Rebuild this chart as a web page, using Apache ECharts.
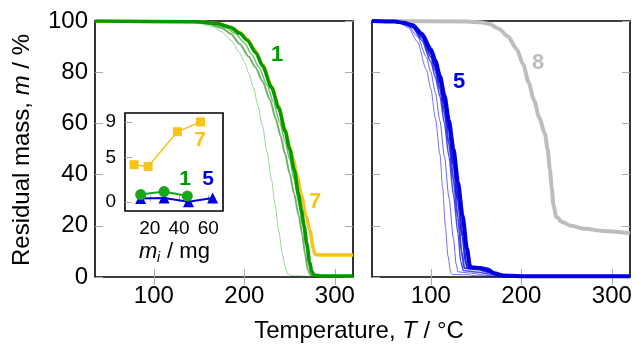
<!DOCTYPE html>
<html><head><meta charset="utf-8">
<script src="https://cdn.jsdelivr.net/npm/echarts@6/dist/echarts.min.js"></script>
<style>html,body{margin:0;padding:0;background:#fff}#c{width:634px;height:347px}</style>
</head><body><div id="c"></div>
<script>
// ---- data (temperature °C, residual mass %) ----
const tempTicks = [100, 200, 300];
const massTicks = [0, 20, 40, 60, 80, 100];
const insetXTicks = [20, 40, 60];
const insetYTicks = [0, 5, 9];

const sample7 = [[35,100],[150,99.7],[170,99],[185,97.6],[195,95.5],[203,93],[210,89.5],[220,83],[230,74.5],[238,66.5],[245,57.5],[250,51],[254,46],[258,40],[263,32],[268,24],[272.5,18],[276,11.5],[278,8.8],[285,8.6],[320,8.6]];
const sample1a = [[35,100],[130,99.7],[150,99.2],[165,97.8],[175,95.8],[185,92.5],[195,87.5],[200,84],[205,79.5],[210,74],[215,67],[220,59],[225,49],[230,38],[234,28],[238,18],[242,9],[245,4],[248,1.2],[252,0.5],[270,0.3],[320,0.3]];
const sample1b = [[35,100],[140,99.7],[160,99],[175,97.3],[185,95],[195,91],[205,86],[212,82],[220,76.5],[228,69.5],[235,61.5],[240,55],[245,48],[250,40.5],[255,32.5],[260,24],[264,16.5],[267,9],[270,3],[273,0.8],[280,0.4],[320,0.3]];
const sample1c = [[35,100],[145,99.7],[165,99],[180,97.4],[190,95.1],[200,91.5],[208,87],[216,82],[225,75],[232,68.5],[239,60.5],[245,53],[250,46],[255,38],[260,29],[264,21],[268,12.5],[271,5],[274,1.2],[280,0.4],[320,0.3]];
const sample1d = [[35,100],[150,99.7],[170,99],[185,97.5],[195,95.2],[203,92.5],[213,87.5],[220,82.5],[230,74],[238,66],[245,57],[250,50],[255,42],[260,32],[263,26],[266,20],[269,13],[272,6],[274.5,2.2],[277,0.8],[285,0.4],[320,0.4]];

const sample5a = [[35,100],[55,99.8],[65,99.2],[75,97.5],[85,92],[95,81],[100,73.5],[105,62],[110,48],[113,35],[116,20],[119,8],[122,1.5],[124,1],[140,0.9],[150,0.5],[165,0.3],[320,0.3]];
const sample5b = [[35,100],[55,99.8],[65,99.3],[75,98],[85,94],[95,86],[100,80],[105,72],[110,61],[115,47],[120,31],[125,15],[128,5],[130,2],[145,1.5],[160,0.7],[175,0.3],[320,0.3]];
const sample5c = [[35,100],[60,99.7],[70,99],[80,97.3],[90,92.5],[100,84],[105,78],[110,70.5],[115,60],[120,47],[125,32],[130,17],[133,6],[136,2.5],[150,2],[165,1.2],[175,0.5],[190,0.3],[320,0.3]];
const sample5d = [[35,100],[60,99.8],[70,99.1],[80,97.8],[90,93.5],[100,86],[105,80.5],[110,73.5],[115,64],[120,52],[125,38],[130,23],[134,10],[137,3.5],[150,3],[165,1.8],[175,0.6],[190,0.3],[320,0.3]];
const sample5e = [[35,100],[60,99.8],[70,99.2],[80,98],[90,94.5],[100,87.5],[105,82.5],[110,76],[115,67.5],[120,57],[125,44],[130,30],[135,16],[139,5],[141,3.6],[155,3.2],[165,2.2],[175,0.8],[190,0.3],[320,0.3]];
const sample5f = [[35,100],[60,99.8],[70,99.3],[80,98.3],[90,95],[100,89],[105,84.5],[110,78.5],[115,71],[120,61],[125,50],[130,37],[135,24],[140,11],[143,4.5],[145,3.8],[155,3.5],[162,3],[170,1.5],[180,0.6],[200,0.3],[320,0.3]];

const sample8 = [[35,100],[140,99.8],[155,99.5],[165,98.8],[175,97],[185,94],[195,89],[202,83],[208,76],[214,69],[220,62],[226,56],[229,50],[231.5,42],[233.5,35],[235.5,28],[238.5,23.5],[245,21.5],[255,20],[270,18.8],[290,18],[320,17.1]];

// inset: initial mass (mg) vs residue (%)
const insetMass7 = [9.2, 18.8, 38.8, 54.6];
const insetRes7  = [4.2, 4.0, 7.9, 9.0];
const insetMass1 = [13.7, 29.7, 45.6];
const insetRes1  = [0.84, 1.18, 0.68];
const insetMass5 = [13.7, 29.7, 46.4, 62.9];
const insetRes5  = [0.4, 0.45, 0.05, 0.45];

// ---- styling ----
const FONT = 'Liberation Sans, Arial, Helvetica, sans-serif';
const GREEN = '#009900', YELLOW = '#f7c31a', BLUE = '#0000e0', GRAY = '#bdbdbd';
const TICKC = '#aaaaaa';

function zip(a, b) { return a.map((v, i) => [v, b[i]]); }

function line(data, xi, color, width, opacity, z) {
  return {
    type: 'line', xAxisIndex: xi, yAxisIndex: xi, data: data,
    showSymbol: false, symbol: 'none', smooth: 0.25, smoothMonotone: 'x',
    lineStyle: { color: color, width: width, opacity: opacity },
    z: z, silent: true, animation: false
  };
}

function mainX(grid, pos, labels) {
  return {
    type: 'value', gridIndex: grid, position: pos, min: 35, max: 320,
    axisLine: { show: false },
    axisTick: { show: true, inside: true, length: 8, customValues: tempTicks, lineStyle: { color: TICKC, width: 1 } },
    axisLabel: { show: labels, customValues: tempTicks, margin: 7, color: '#000', fontSize: 24, fontFamily: FONT },
    splitLine: { show: false }
  };
}
function mainY(grid, pos, labels) {
  return {
    type: 'value', gridIndex: grid, position: pos, min: 0, max: 100,
    axisLine: { show: false },
    axisTick: { show: true, inside: true, length: 8, customValues: massTicks, lineStyle: { color: TICKC, width: 1 } },
    axisLabel: { show: labels, customValues: massTicks, margin: 7, color: '#000', fontSize: 24, fontFamily: FONT },
    splitLine: { show: false }
  };
}

const gridBase = { show: true, borderColor: '#000', borderWidth: 1.6, backgroundColor: 'transparent', containLabel: false, outerBoundsMode: 'none' };

const option = {
  animation: false,
  backgroundColor: '#fff',
  grid: [
    Object.assign({}, gridBase, { left: 95, top: 21, width: 258, height: 256 }),
    Object.assign({}, gridBase, { left: 372, top: 21, width: 258, height: 256 }),
    Object.assign({}, gridBase, { left: 125, top: 113, width: 98, height: 98, backgroundColor: '#fff', z: 5 })
  ],
  xAxis: [
    mainX(0, 'bottom', true),
    mainX(1, 'bottom', true),
    {
      type: 'value', gridIndex: 2, min: 3, max: 70, position: 'bottom',
      axisLine: { show: false },
      axisTick: { show: true, inside: true, length: 7, customValues: insetXTicks, lineStyle: { color: TICKC } },
      axisLabel: { customValues: insetXTicks, margin: 8, color: '#000', fontSize: 19, fontFamily: FONT },
      splitLine: { show: false }, z: 5
    },
    mainX(0, 'top', false),
    mainX(1, 'top', false)
  ],
  yAxis: [
    mainY(0, 'left', true),
    mainY(1, 'left', false),
    {
      type: 'value', gridIndex: 2, min: -1, max: 10, position: 'left',
      axisLine: { show: false },
      axisTick: { show: true, inside: true, length: 7, customValues: insetYTicks, lineStyle: { color: TICKC } },
      axisLabel: { customValues: insetYTicks, margin: 9, color: '#000', fontSize: 19, fontFamily: FONT },
      splitLine: { show: false }, z: 5
    },
    mainY(0, 'right', false),
    mainY(1, 'right', false)
  ],
  series: [
    line(sample7, 0, YELLOW, 3.5, 1, 2),
    line(sample1a, 0, GREEN, 1, 0.4, 3),
    line(sample1b, 0, '#3a8f2a', 2, 0.7, 3),
    line(sample1c, 0, GREEN, 1.5, 0.6, 3),
    line(sample1d, 0, GREEN, 3.5, 1, 4),

    line(sample8, 1, GRAY, 4, 1, 2),
    line(sample5a, 1, BLUE, 1, 0.55, 3),
    line(sample5b, 1, BLUE, 1, 0.6, 3),
    line(sample5c, 1, BLUE, 1.5, 0.7, 3),
    line(sample5d, 1, BLUE, 2, 0.75, 3),
    line(sample5e, 1, BLUE, 2.5, 0.85, 3),
    line(sample5f, 1, BLUE, 4, 1, 4),

    { type: 'line', xAxisIndex: 2, yAxisIndex: 2, data: zip(insetMass5, insetRes5), symbol: 'triangle', symbolSize: 11,
      itemStyle: { color: BLUE }, lineStyle: { color: BLUE, width: 2 }, z: 10, silent: true },
    { type: 'line', xAxisIndex: 2, yAxisIndex: 2, data: zip(insetMass1, insetRes1), symbol: 'circle', symbolSize: 11,
      itemStyle: { color: '#1aa51a' }, lineStyle: { color: '#1aa51a', width: 2 }, z: 11, silent: true },
    { type: 'line', xAxisIndex: 2, yAxisIndex: 2, data: zip(insetMass7, insetRes7), symbol: 'rect', symbolSize: 9,
      itemStyle: { color: YELLOW }, lineStyle: { color: YELLOW, width: 1.5 }, z: 10, silent: true }
  ],
  graphic: [
    { type: 'text', x: 22, y: 150, rotation: Math.PI / 2, z: 100,
      style: { text: 'Residual mass, {i|m} / %', x: 0, y: 0, align: 'center', verticalAlign: 'middle',
        font: '24px ' + FONT, fill: '#000',
        rich: { i: { fontStyle: 'italic', fontSize: 24, fontFamily: FONT, fill: '#000' } } } },
    { type: 'text', x: 359, y: 331, z: 100,
      style: { text: 'Temperature, {i|T} / °C', x: 0, y: 0, align: 'center', verticalAlign: 'middle',
        font: '24px ' + FONT, fill: '#000',
        rich: { i: { fontStyle: 'italic', fontSize: 24, fontFamily: FONT, fill: '#000' } } } },
    // inset x title
    { type: 'text', x: 139, y: 252, z: 100,
      style: { text: 'm', align: 'left', verticalAlign: 'middle', font: 'italic 22px ' + FONT, fill: '#000' } },
    { type: 'text', x: 157, y: 258, z: 100,
      style: { text: 'i', align: 'left', verticalAlign: 'middle', font: 'italic 14px ' + FONT, fill: '#000' } },
    { type: 'text', x: 161, y: 252, z: 100,
      style: { text: ' / mg', align: 'left', verticalAlign: 'middle', font: '22px ' + FONT, fill: '#000' } },
    // curve labels
    { type: 'text', x: 277, y: 55, z: 100, style: { text: '1', align: 'center', verticalAlign: 'middle', font: 'bold 22px ' + FONT, fill: GREEN } },
    { type: 'text', x: 315, y: 202, z: 100, style: { text: '7', align: 'center', verticalAlign: 'middle', font: 'bold 22px ' + FONT, fill: YELLOW } },
    { type: 'text', x: 459, y: 82, z: 100, style: { text: '5', align: 'center', verticalAlign: 'middle', font: 'bold 22px ' + FONT, fill: BLUE } },
    { type: 'text', x: 538, y: 63, z: 100, style: { text: '8', align: 'center', verticalAlign: 'middle', font: 'bold 22px ' + FONT, fill: GRAY } },
    { type: 'text', x: 200, y: 140, z: 100, style: { text: '7', align: 'center', verticalAlign: 'middle', font: 'bold 21px ' + FONT, fill: YELLOW } },
    { type: 'text', x: 185, y: 179, z: 100, style: { text: '1', align: 'center', verticalAlign: 'middle', font: 'bold 21px ' + FONT, fill: GREEN } },
    { type: 'text', x: 208, y: 179, z: 100, style: { text: '5', align: 'center', verticalAlign: 'middle', font: 'bold 21px ' + FONT, fill: BLUE } }
  ]
};

const chart = echarts.init(document.getElementById('c'), null, { renderer: 'canvas' });
chart.setOption(option);
</script>
</body></html>
